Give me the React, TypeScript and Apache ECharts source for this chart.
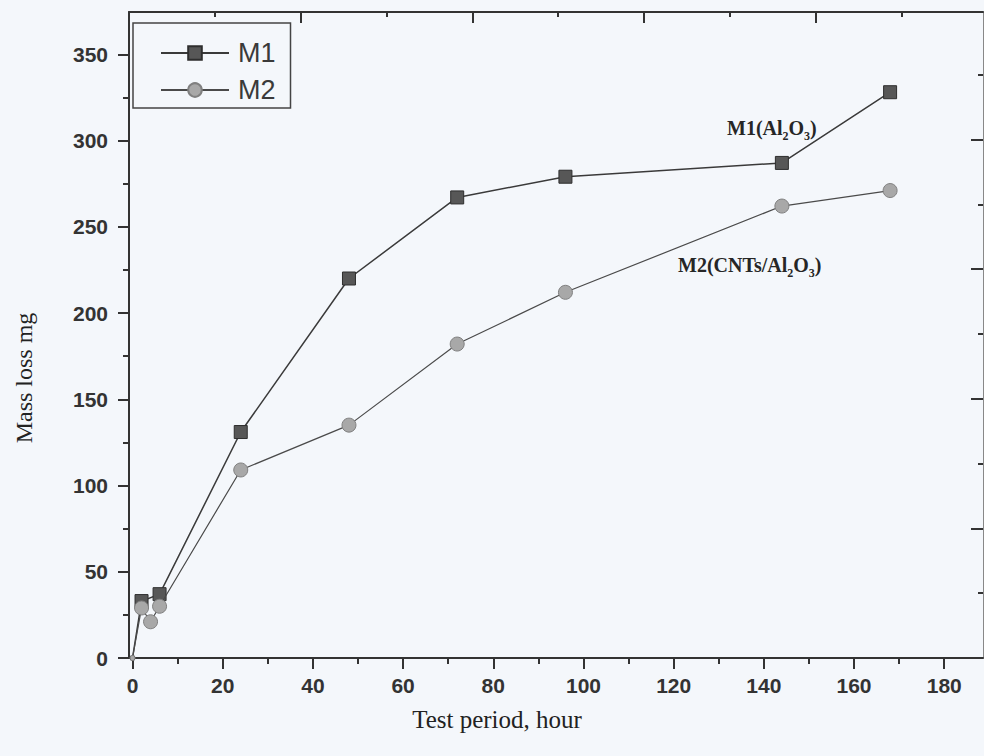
import React, { useEffect, useRef } from "react";
import * as echarts from "echarts";

// Test period (hours) and mass loss (mg)
const m1Hours = [0, 2, 6, 24, 48, 72, 96, 144, 168];
const m1Loss = [0, 33, 37, 131, 220, 267, 279, 287, 328];
const m2Hours = [0, 2, 4, 6, 24, 48, 72, 96, 144, 168];
const m2Loss = [0, 29, 21, 30, 109, 135, 182, 212, 262, 271];

const xTicks = [0, 20, 40, 60, 80, 100, 120, 140, 160, 180];
const xMinorTicks = [10, 30, 50, 70, 90, 110, 130, 150, 170];
const yTicks = [0, 50, 100, 150, 200, 250, 300, 350];
const yMinorTicks = [25, 75, 125, 175, 225, 275, 325];
const frameLong = [2, 4, 6, 8];
const frameShort = [1, 3, 5, 7, 9];

const seriesNames = ["M1", "M2"];

const AX = "#333";
const SANS = "'Liberation Sans', Arial, sans-serif";
const SERIF = "'Liberation Serif', 'Times New Roman', serif";

export default function App() {
  const ref = useRef<HTMLDivElement>(null);

  useEffect(() => {
    if (!ref.current) return;
    const chart = echarts.init(ref.current, null, { renderer: "svg" });

    const tickAxis = (extra: any) => ({
      type: "value",
      axisLine: { show: false, onZero: false },
      axisLabel: { show: false },
      splitLine: { show: false },
      ...extra,
    });

    const annot = (x: number, y: number, text: string) => ({
      type: "text",
      x,
      y,
      style: {
        text,
        fontSize: 20,
        fontWeight: "bold",
        fontFamily: SERIF,
        fill: "#262626",
        lineHeight: 28,
        align: "left",
        verticalAlign: "middle",
        textAlign: "left",
        textVerticalAlign: "middle",
        rich: {
          s: { fontSize: 12, lineHeight: 12, verticalAlign: "bottom", fontWeight: "bold", fontFamily: SERIF, fill: "#262626" },
        },
      },
    });

    const option: any = {
      animation: false,
      backgroundColor: "#f4f7fb",
      grid: { left: 129, top: 12, width: 854, height: 646, containLabel: false, outerBoundsMode: "none" },
      legend: {
        left: 133,
        top: 23,
        orient: "vertical",
        data: seriesNames,
        itemWidth: 68,
        itemHeight: 17,
        itemGap: 9,
        padding: [16, 15, 4, 27],
        borderColor: "#444",
        borderWidth: 1.5,
        textStyle: { fontSize: 27, fontFamily: SANS, color: "#3a3a3a", lineHeight: 28, padding: [0, 0, 0, 4] },
      },
      xAxis: [
        {
          type: "value",
          min: -0.78,
          max: 188.6,
          axisLine: { show: true, onZero: false, lineStyle: { color: AX, width: 2 } },
          axisTick: { show: true, inside: false, length: 11, customValues: xTicks, lineStyle: { color: AX, width: 2 } },
          axisLabel: {
            show: true,
            customValues: xTicks,
            margin: 17,
            fontSize: 21,
            fontWeight: "bold",
            fontFamily: SANS,
            color: "#333",
          },
          splitLine: { show: false },
        },
        tickAxis({
          min: -0.78,
          max: 188.6,
          position: "bottom",
          axisTick: { show: true, inside: false, length: 6, customValues: xMinorTicks, lineStyle: { color: AX, width: 2 } },
        }),
        {
          type: "value",
          position: "top",
          min: 0,
          max: 9.95,
          axisLine: { show: true, onZero: false, lineStyle: { color: AX, width: 2 } },
          axisTick: { show: true, inside: true, length: 11, customValues: frameLong, lineStyle: { color: AX, width: 2 } },
          axisLabel: { show: false },
          splitLine: { show: false },
        },
        tickAxis({
          position: "top",
          min: 0,
          max: 9.95,
          axisTick: { show: true, inside: true, length: 5, customValues: frameShort, lineStyle: { color: AX, width: 2 } },
        }),
      ],
      yAxis: [
        {
          type: "value",
          position: "left",
          min: 0,
          max: 374.5,
          axisLine: { show: true, onZero: false, lineStyle: { color: AX, width: 2 } },
          axisTick: { show: true, inside: false, length: 11, customValues: yTicks, lineStyle: { color: AX, width: 2 } },
          axisLabel: {
            show: true,
            customValues: yTicks,
            margin: 21,
            fontSize: 21,
            fontWeight: "bold",
            fontFamily: SANS,
            color: "#333",
          },
          splitLine: { show: false },
        },
        tickAxis({
          position: "left",
          min: 0,
          max: 374.5,
          axisTick: { show: true, inside: false, length: 6, customValues: yMinorTicks, lineStyle: { color: AX, width: 2 } },
        }),
        {
          type: "value",
          position: "right",
          min: 0,
          max: 9.97,
          axisLine: { show: true, onZero: false, lineStyle: { color: "#888", width: 1 } },
          axisTick: { show: true, inside: true, length: 12, customValues: frameLong, lineStyle: { color: AX, width: 2 } },
          axisLabel: { show: false },
          splitLine: { show: false },
        },
        tickAxis({
          position: "right",
          min: 0,
          max: 9.97,
          axisTick: { show: true, inside: true, length: 5, customValues: frameShort, lineStyle: { color: AX, width: 2 } },
        }),
      ],
      series: [
        {
          name: seriesNames[0],
          type: "line",
          xAxisIndex: 0,
          yAxisIndex: 0,
          data: m1Hours.map((h, i) => [h, m1Loss[i]]),
          symbol: "rect",
          symbolSize: (v: number[]) => (v[1] === 0 ? 4 : 13),
          itemStyle: { color: "#575757", borderColor: "#2e2e2e", borderWidth: 1 },
          lineStyle: { color: "#3a3a3a", width: 1.5 },
          z: 2,
        },
        {
          name: seriesNames[1],
          type: "line",
          xAxisIndex: 0,
          yAxisIndex: 0,
          data: m2Hours.map((h, i) => [h, m2Loss[i]]),
          symbol: "circle",
          symbolSize: (v: number[]) => (v[1] === 0 ? 5 : 14),
          itemStyle: { color: "#a8a8a8", borderColor: "#808080", borderWidth: 1 },
          lineStyle: { color: "#4a4a4a", width: 1.2 },
          z: 3,
        },
      ],
      graphic: [
        {
          type: "text",
          x: 24,
          y: 378,
          rotation: Math.PI / 2,
          style: {
            text: "Mass loss mg",
            fontSize: 24,
            fontFamily: SERIF,
            fill: "#222",
            align: "center",
            verticalAlign: "middle",
            textAlign: "center",
            textVerticalAlign: "middle",
          },
        },
        {
          type: "text",
          x: 497,
          y: 719,
          style: {
            text: "Test period, hour",
            fontSize: 25,
            fontFamily: SERIF,
            fill: "#222",
            align: "center",
            verticalAlign: "middle",
            textAlign: "center",
            textVerticalAlign: "middle",
          },
        },
        annot(727, 128, "M1(Al{s|2}O{s|3})"),
        annot(678, 265, "M2(CNTs/Al{s|2}O{s|3})"),
      ],
    };

    chart.setOption(option);
    return () => chart.dispose();
  }, []);

  return (
    <div
      ref={ref}
      style={{ position: "fixed", left: 0, top: 0, width: 984, height: 756, background: "#f4f7fb" }}
    />
  );
}
